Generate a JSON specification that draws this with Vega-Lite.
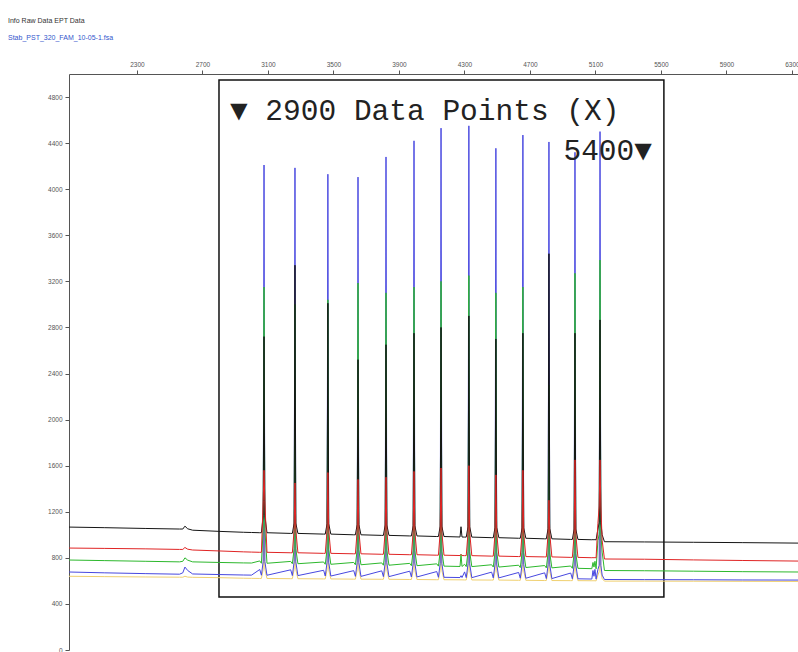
{
  "$schema": "https://vega.github.io/schema/vega-lite/v6.json",
  "width": 729,
  "height": 576,
  "autosize": {"type": "none"},
  "padding": {"left": 69, "top": 74, "right": 0, "bottom": 2},
  "background": "#ffffff",
  "config": {"view": {"stroke": null}},
  "title": {
    "text": "Info    Raw Data    EPT Data",
    "subtitle": "Stab_PST_320_FAM_10-05-1.fsa",
    "anchor": "start",
    "frame": "group",
    "dx": -61,
    "offset": 20,
    "fontSize": 7,
    "fontWeight": "normal",
    "font": "Liberation Sans",
    "color": "#333333",
    "subtitleFontSize": 7,
    "subtitleFont": "Liberation Sans",
    "subtitleColor": "#3355cc",
    "subtitlePadding": 10
  },
  "datasets": {
    "tr": [
      {"x":1885,"bk":1067,"rd":885,"gr":781,"bl":677,"ye":640},
      {"x":2100,"bk":1062,"rd":882,"gr":776,"bl":670,"ye":637},
      {"x":2350,"bk":1055,"rd":878,"gr":770,"bl":663,"ye":634},
      {"x":2560,"bk":1050,"rd":873,"gr":765,"bl":658,"ye":632},
      {"x":2580,"bk":1050,"rd":873,"gr":770,"bl":670,"ye":632},
      {"x":2593,"bk":1075,"rd":890,"gr":800,"bl":720,"ye":640},
      {"x":2610,"bk":1052,"rd":875,"gr":780,"bl":690,"ye":633},
      {"x":2640,"bk":1040,"rd":868,"gr":765,"bl":660,"ye":631},
      {"x":2800,"bk":1030,"rd":860,"gr":760,"bl":655,"ye":628},
      {"x":2950,"bk":1022,"rd":852,"gr":756,"bl":651,"ye":623},
      {"x":3000,"bk":1020,"rd":850,"gr":755,"bl":650,"ye":622},
      {"x":3050,"bk":1018,"rd":848,"gr":773,"bl":699,"ye":621},
      {"x":3060,"bk":1018,"rd":848,"gr":753,"bl":649,"ye":621},
      {"x":3071,"bk":1168,"rd":1298,"gr":1053,"bl":769,"ye":701},
      {"x":3076,"bk":2720,"rd":1560,"gr":3150,"bl":4210,"ye":1150},
      {"x":3081,"bk":1168,"rd":1298,"gr":1053,"bl":769,"ye":701},
      {"x":3094,"bk":1018,"rd":848,"gr":753,"bl":649,"ye":621},
      {"x":3239,"bk":1012,"rd":844,"gr":769,"bl":696,"ye":619},
      {"x":3249,"bk":1012,"rd":844,"gr":749,"bl":646,"ye":619},
      {"x":3260,"bk":1102,"rd":1044,"gr":879,"bl":766,"ye":699},
      {"x":3265,"bk":3340,"rd":1450,"gr":3000,"bl":4185,"ye":1100},
      {"x":3270,"bk":1102,"rd":1044,"gr":879,"bl":766,"ye":699},
      {"x":3283,"bk":1012,"rd":844,"gr":749,"bl":646,"ye":619},
      {"x":3440,"bk":1006,"rd":839,"gr":764,"bl":692,"ye":617},
      {"x":3450,"bk":1006,"rd":839,"gr":744,"bl":642,"ye":617},
      {"x":3461,"bk":1096,"rd":1039,"gr":874,"bl":762,"ye":697},
      {"x":3466,"bk":3010,"rd":1540,"gr":3040,"bl":4130,"ye":1150},
      {"x":3471,"bk":1096,"rd":1039,"gr":874,"bl":762,"ye":697},
      {"x":3484,"bk":1006,"rd":839,"gr":744,"bl":642,"ye":617},
      {"x":3624,"bk":1000,"rd":835,"gr":760,"bl":689,"ye":615},
      {"x":3634,"bk":1000,"rd":835,"gr":740,"bl":639,"ye":615},
      {"x":3645,"bk":1090,"rd":1035,"gr":870,"bl":759,"ye":695},
      {"x":3650,"bk":2520,"rd":1480,"gr":3185,"bl":4105,"ye":1100},
      {"x":3655,"bk":1090,"rd":1035,"gr":870,"bl":759,"ye":695},
      {"x":3668,"bk":1000,"rd":835,"gr":740,"bl":639,"ye":615},
      {"x":3795,"bk":995,"rd":831,"gr":756,"bl":687,"ye":614},
      {"x":3805,"bk":995,"rd":831,"gr":736,"bl":637,"ye":614},
      {"x":3816,"bk":1085,"rd":1031,"gr":866,"bl":757,"ye":694},
      {"x":3821,"bk":2650,"rd":1500,"gr":3100,"bl":4280,"ye":1150},
      {"x":3826,"bk":1085,"rd":1031,"gr":866,"bl":757,"ye":694},
      {"x":3839,"bk":995,"rd":831,"gr":736,"bl":637,"ye":614},
      {"x":3966,"bk":990,"rd":827,"gr":752,"bl":684,"ye":612},
      {"x":3976,"bk":990,"rd":827,"gr":732,"bl":634,"ye":612},
      {"x":3987,"bk":1080,"rd":1027,"gr":862,"bl":754,"ye":692},
      {"x":3992,"bk":2750,"rd":1550,"gr":3150,"bl":4420,"ye":1200},
      {"x":3997,"bk":1080,"rd":1027,"gr":862,"bl":754,"ye":692},
      {"x":4010,"bk":990,"rd":827,"gr":732,"bl":634,"ye":612},
      {"x":4131,"bk":985,"rd":823,"gr":748,"bl":681,"ye":610},
      {"x":4141,"bk":985,"rd":823,"gr":728,"bl":631,"ye":610},
      {"x":4152,"bk":1075,"rd":1023,"gr":858,"bl":751,"ye":690},
      {"x":4157,"bk":2800,"rd":1580,"gr":3200,"bl":4530,"ye":1200},
      {"x":4162,"bk":1075,"rd":1023,"gr":858,"bl":751,"ye":690},
      {"x":4175,"bk":985,"rd":823,"gr":728,"bl":631,"ye":610},
      {"x":4273,"bk":981,"rd":820,"gr":725,"bl":629,"ye":609},
      {"x":4279,"bk":1070,"rd":830,"gr":830,"bl":645,"ye":609},
      {"x":4285,"bk":981,"rd":820,"gr":725,"bl":629,"ye":609},
      {"x":4301,"bk":980,"rd":819,"gr":744,"bl":678,"ye":608},
      {"x":4311,"bk":980,"rd":819,"gr":724,"bl":628,"ye":608},
      {"x":4322,"bk":1070,"rd":1019,"gr":854,"bl":748,"ye":688},
      {"x":4327,"bk":2900,"rd":1600,"gr":3250,"bl":4550,"ye":1200},
      {"x":4332,"bk":1070,"rd":1019,"gr":854,"bl":748,"ye":688},
      {"x":4345,"bk":980,"rd":819,"gr":724,"bl":628,"ye":608},
      {"x":4466,"bk":975,"rd":815,"gr":740,"bl":676,"ye":607},
      {"x":4476,"bk":975,"rd":815,"gr":720,"bl":626,"ye":607},
      {"x":4487,"bk":1065,"rd":1015,"gr":850,"bl":746,"ye":687},
      {"x":4492,"bk":2700,"rd":1520,"gr":3100,"bl":4355,"ye":1150},
      {"x":4497,"bk":1065,"rd":1015,"gr":850,"bl":746,"ye":687},
      {"x":4510,"bk":975,"rd":815,"gr":720,"bl":626,"ye":607},
      {"x":4631,"bk":970,"rd":811,"gr":736,"bl":673,"ye":605},
      {"x":4641,"bk":970,"rd":811,"gr":716,"bl":623,"ye":605},
      {"x":4652,"bk":1060,"rd":1011,"gr":846,"bl":743,"ye":685},
      {"x":4657,"bk":2750,"rd":1560,"gr":3150,"bl":4470,"ye":1200},
      {"x":4662,"bk":1060,"rd":1011,"gr":846,"bl":743,"ye":685},
      {"x":4675,"bk":970,"rd":811,"gr":716,"bl":623,"ye":605},
      {"x":4790,"bk":965,"rd":808,"gr":733,"bl":670,"ye":603},
      {"x":4800,"bk":965,"rd":808,"gr":713,"bl":620,"ye":603},
      {"x":4811,"bk":1055,"rd":1008,"gr":843,"bl":740,"ye":683},
      {"x":4816,"bk":3440,"rd":1300,"gr":2300,"bl":4410,"ye":1150},
      {"x":4821,"bk":1055,"rd":1008,"gr":843,"bl":740,"ye":683},
      {"x":4834,"bk":965,"rd":808,"gr":713,"bl":620,"ye":603},
      {"x":4949,"bk":960,"rd":804,"gr":729,"bl":668,"ye":602},
      {"x":4959,"bk":960,"rd":804,"gr":709,"bl":618,"ye":602},
      {"x":4970,"bk":1050,"rd":1004,"gr":839,"bl":738,"ye":682},
      {"x":4975,"bk":2750,"rd":1650,"gr":3270,"bl":4320,"ye":1200},
      {"x":4980,"bk":1050,"rd":1004,"gr":839,"bl":738,"ye":682},
      {"x":4993,"bk":960,"rd":804,"gr":709,"bl":618,"ye":602},
      {"x":5078,"bk":957,"rd":801,"gr":706,"bl":616,"ye":601},
      {"x":5085,"bk":958,"rd":802,"gr":760,"bl":690,"ye":601},
      {"x":5091,"bk":957,"rd":801,"gr":720,"bl":640,"ye":601},
      {"x":5097,"bk":958,"rd":802,"gr":770,"bl":700,"ye":601},
      {"x":5104,"bk":956,"rd":800,"gr":705,"bl":615,"ye":600},
      {"x":5115,"bk":1050,"rd":1100,"gr":950,"bl":700,"ye":650},
      {"x":5123,"bk":1106,"rd":1250,"gr":1005,"bl":735,"ye":680},
      {"x":5128,"bk":2865,"rd":1650,"gr":3385,"bl":4500,"ye":1250},
      {"x":5133,"bk":1106,"rd":1250,"gr":1005,"bl":735,"ye":680},
      {"x":5141,"bk":1000,"rd":950,"gr":850,"bl":650,"ye":620},
      {"x":5155,"bk":940,"rd":790,"gr":690,"bl":612,"ye":598},
      {"x":5400,"bk":938,"rd":788,"gr":688,"bl":611,"ye":598},
      {"x":5700,"bk":935,"rd":782,"gr":684,"bl":610,"ye":597},
      {"x":6000,"bk":932,"rd":777,"gr":680,"bl":608,"ye":596},
      {"x":6337,"bk":928,"rd":772,"gr":677,"bl":607,"ye":595}
    ],
    "box": [{"x1": 2801, "x2": 5518, "y1": 460, "y2": 4947}],
    "noteLeft": [{"label": "▼ 2900 Data Points (X)", "x": 2868, "y": 4600}],
    "noteRight": [{"label": "5400▼", "x": 5445, "y": 4253}]
  },
  "layer": [
    {
      "data": {"name": "box"},
      "mark": {"type": "rect", "fillOpacity": 0, "stroke": "#111111", "strokeWidth": 1.5},
      "encoding": {
        "x": {"field": "x1", "type": "quantitative",
              "scale": {"domain": [1885, 6337], "nice": false, "zero": false},
              "axis": {"orient": "top", "title": null, "grid": false,
                       "values": [2300,2700,3100,3500,3900,4300,4700,5100,5500,5900,6300],
                       "format": "d",
                       "labelOverlap": false,
                       "tickSize": 4, "tickColor": "#555555", "domainColor": "#555555",
                       "labelFontSize": 6.5, "labelColor": "#555555", "labelFont": "Liberation Sans",
                       "labelPadding": 3, "labelFlush": false}},
        "x2": {"field": "x2"},
        "y": {"field": "y1", "type": "quantitative",
              "scale": {"domain": [0, 5000], "nice": false, "zero": true},
              "axis": {"orient": "left", "title": null, "grid": false,
                       "values": [0,400,800,1200,1600,2000,2400,2800,3200,3600,4000,4400,4800],
                       "format": "d",
                       "labelOverlap": false,
                       "tickSize": 4, "tickColor": "#555555", "domainColor": "#555555",
                       "labelFontSize": 6.5, "labelColor": "#555555", "labelFont": "Liberation Sans",
                       "labelPadding": 3, "labelFlush": false}},
        "y2": {"field": "y2"}
      }
    },
    {
      "data": {"name": "tr"},
      "mark": {"type": "line", "color": "#f0d070", "strokeWidth": 1, "clip": true},
      "encoding": {"x": {"field": "x", "type": "quantitative"}, "y": {"field": "ye", "type": "quantitative"}}
    },
    {
      "data": {"name": "tr"},
      "mark": {"type": "line", "color": "#4848e0", "strokeWidth": 1, "clip": true},
      "encoding": {"x": {"field": "x", "type": "quantitative"}, "y": {"field": "bl", "type": "quantitative"}}
    },
    {
      "data": {"name": "tr"},
      "mark": {"type": "line", "color": "#2db82d", "strokeWidth": 1, "clip": true},
      "encoding": {"x": {"field": "x", "type": "quantitative"}, "y": {"field": "gr", "type": "quantitative"}}
    },
    {
      "data": {"name": "tr"},
      "mark": {"type": "line", "color": "#151515", "strokeWidth": 1, "clip": true},
      "encoding": {"x": {"field": "x", "type": "quantitative"}, "y": {"field": "bk", "type": "quantitative"}}
    },
    {
      "data": {"name": "tr"},
      "mark": {"type": "line", "color": "#e02424", "strokeWidth": 1, "clip": true},
      "encoding": {"x": {"field": "x", "type": "quantitative"}, "y": {"field": "rd", "type": "quantitative"}}
    },
    {
      "data": {"name": "noteLeft"},
      "mark": {"type": "text", "font": "Liberation Mono", "fontSize": 29.5, "color": "#222222", "baseline": "alphabetic", "align": "left"},
      "encoding": {
        "x": {"field": "x", "type": "quantitative"},
        "y": {"field": "y", "type": "quantitative"},
        "text": {"field": "label"}
      }
    },
    {
      "data": {"name": "noteRight"},
      "mark": {"type": "text", "font": "Liberation Mono", "fontSize": 29.5, "color": "#222222", "baseline": "alphabetic", "align": "right"},
      "encoding": {
        "x": {"field": "x", "type": "quantitative"},
        "y": {"field": "y", "type": "quantitative"},
        "text": {"field": "label"}
      }
    }
  ]
}
